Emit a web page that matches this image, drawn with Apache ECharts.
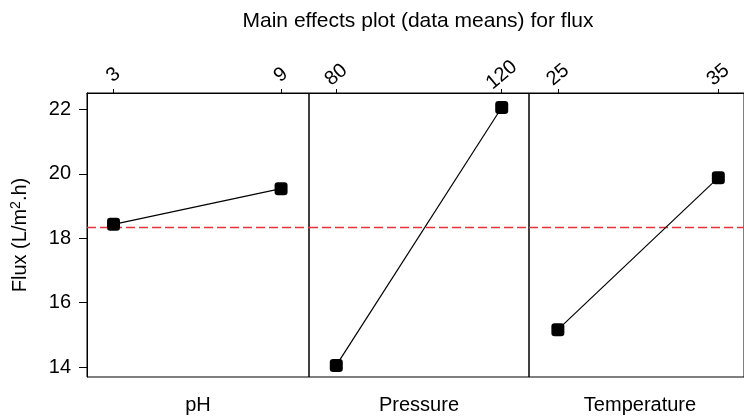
<!DOCTYPE html>
<html>
<head>
<meta charset="utf-8">
<script src="https://cdn.jsdelivr.net/npm/echarts@6/dist/echarts.min.js"></script>
<style>html,body{margin:0;padding:0;background:#fff;}#chart{width:744px;height:418px;}</style>
</head>
<body>
<div id="chart"></div>
<script>
var titleText = 'Main effects plot (data means) for flux';
var factors = ['pH', 'Pressure', 'Temperature'];
var phLevels = [3, 9];
var phMeans = [18.43, 19.54];
var pressureLevels = [80, 120];
var pressureMeans = [14.05, 22.06];
var temperatureLevels = [25, 35];
var temperatureMeans = [15.16, 19.88];
var grandMean = 18.33;
var yTicks = [14, 16, 18, 20, 22];

var levelSets = [phLevels, pressureLevels, temperatureLevels];
var meanSets = [phMeans, pressureMeans, temperatureMeans];
var xRanges = [[2.05, 10.0], [73.4, 126.6], [23.2, 36.6]];
var yRange = [13.69, 22.51];

var FONT = 'Liberation Sans, Arial, Helvetica, sans-serif';
var panelLeft = [87, 309, 529];
var panelWidth = [222, 220, 222];
var gridTop = 93, gridHeight = 284;
var meanColor = '#e8333a';

var grids = [], xAxes = [], yAxes = [], series = [], graphics = [];
for (var i = 0; i < 3; i++) {
  grids.push({left: panelLeft[i], top: gridTop, width: panelWidth[i], height: gridHeight,
    show: true, borderColor: '#000', borderWidth: 1, backgroundColor: 'transparent'});
  xAxes.push({
    type: 'value', gridIndex: i, position: 'top',
    min: xRanges[i][0], max: xRanges[i][1],
    splitLine: {show: false},
    axisLine: {show: true, lineStyle: {color: '#000', width: 1}},
    axisTick: {show: true, length: 4, lineStyle: {color: '#000'}, customValues: levelSets[i]},
    axisLabel: {show: true, customValues: levelSets[i], rotate: -40, align: 'center', verticalAlign: 'middle',
      margin: 18, fontSize: 20, fontFamily: FONT, color: '#000'}
  });
  yAxes.push({
    type: 'value', gridIndex: i, position: 'left',
    min: yRange[0], max: yRange[1],
    show: i === 0,
    splitLine: {show: false},
    axisLine: {show: true, lineStyle: {color: '#000', width: 1}},
    axisTick: {show: true, length: 8, lineStyle: {color: '#000'}, customValues: yTicks},
    axisLabel: {show: true, customValues: yTicks, margin: 16, fontSize: 20, fontFamily: FONT, color: '#000'}
  });
  // grand-mean reference line across the whole panel
  series.push({
    type: 'line', xAxisIndex: i, yAxisIndex: i,
    data: [[xRanges[i][0], grandMean], [xRanges[i][1], grandMean]],
    showSymbol: false, symbol: 'none', silent: true,
    lineStyle: {color: meanColor, width: 1.5, type: [9, 4]},
    itemStyle: {color: meanColor},
    emphasis: {disabled: true},
    z: 2
  });
  var pts = [];
  for (var k = 0; k < levelSets[i].length; k++) pts.push([levelSets[i][k], meanSets[i][k]]);
  series.push({
    type: 'line', xAxisIndex: i, yAxisIndex: i, data: pts,
    symbol: 'roundRect', symbolSize: 13, showSymbol: true,
    itemStyle: {color: '#000'},
    lineStyle: {color: '#000', width: 1.2},
    z: 3
  });
  graphics.push({
    type: 'text', x: panelLeft[i] + panelWidth[i] / 2, y: 405,
    style: {text: factors[i], font: '20px ' + FONT, fill: '#000', align: 'center', verticalAlign: 'middle'}
  });
}
graphics.push({
  type: 'text', x: 418, y: 21,
  style: {text: titleText, font: '21px ' + FONT, fill: '#000', align: 'center', verticalAlign: 'middle'}
});
graphics.push({
  type: 'text', x: 20, y: 235, rotation: Math.PI / 2,
  style: {
    text: '{a|Flux (L/m}{s|2}{a|.h)}', align: 'center', verticalAlign: 'middle',
    rich: {
      a: {fontSize: 20, fontFamily: FONT, fill: '#000', color: '#000', lineHeight: 22},
      s: {fontSize: 14, fontFamily: FONT, fill: '#000', color: '#000', verticalAlign: 'top', lineHeight: 22, padding: [0, 0, 8, 0]}
    }
  }
});

var chart = echarts.init(document.getElementById('chart'), null, {renderer: 'canvas'});
chart.setOption({
  animation: false,
  backgroundColor: '#fff',
  grid: grids, xAxis: xAxes, yAxis: yAxes, series: series,
  graphic: graphics
});
</script>
</body>
</html>
